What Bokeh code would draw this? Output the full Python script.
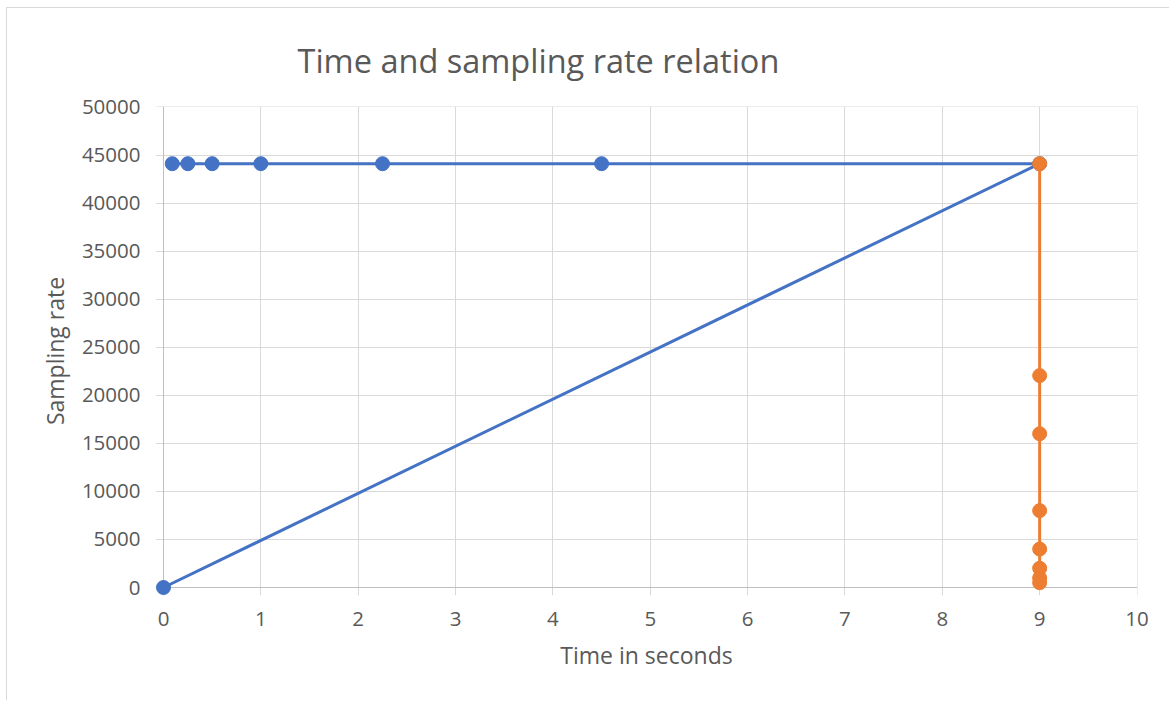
from bokeh.plotting import figure
from bokeh.models import Range1d, FixedTicker, Span
from bokeh.embed import file_html
from bokeh.resources import INLINE

# ---- data ----
blue_x = [0, 9, 4.5, 2.25, 1, 0.5, 0.25, 0.09]
blue_y = [0, 44100, 44100, 44100, 44100, 44100, 44100, 44100]
orange_x = [9, 9, 9, 9, 9, 9, 9, 9]
orange_y = [44100, 22050, 16000, 8000, 4000, 2000, 1000, 500]
x_ticks = [0, 1, 2, 3, 4, 5, 6, 7, 8, 9, 10]
y_ticks = [0, 5000, 10000, 15000, 20000, 25000, 30000, 35000, 40000, 45000, 50000]

FONT = "Open Sans"
TXT = "#595959"
GRID = "#d9d9d9"
AXIS = "#bfbfbf"
BLUE = "#4472C4"
ORANGE = "#ED7D31"

x_pad = 8 / 97.3
y_pad = 8 * 50000 / 481

p = figure(width=1163, height=693, output_backend="svg", toolbar_location=None,
           x_range=Range1d(-x_pad, 10.005), y_range=Range1d(-y_pad, 50050),
           min_border_left=148, min_border_right=33, min_border_top=98,
           min_border_bottom=106)
p.styles = {"margin-left": "6px", "margin-top": "7px",
            "border-left": "1.5px solid #d9d9d9", "border-top": "1.5px solid #d9d9d9"}
p.outline_line_color = None
p.background_fill_color = "white"
p.border_fill_color = "white"

p.title.text = "Time and sampling rate relation"
p.title.align = "left"
p.title.offset = 142
p.title.standoff = 48
p.title.text_font = FONT
p.title.text_font_size = "32.5px"
p.title.text_font_style = "normal"
p.title.text_color = TXT

for ax in (p.xaxis, p.yaxis):
    ax.axis_line_color = None
    ax.major_tick_line_color = None
    ax.minor_tick_line_color = None
    ax.major_label_text_font = FONT
    ax.major_label_text_color = TXT
    ax.major_label_text_font_size = "20.5px"
    ax.axis_label_text_font = FONT
    ax.axis_label_text_color = TXT
    ax.axis_label_text_font_size = "23px"
    ax.axis_label_text_font_style = "normal"

p.xaxis.ticker = FixedTicker(ticks=x_ticks)
p.yaxis.ticker = FixedTicker(ticks=y_ticks)
p.xaxis.major_label_standoff = 10
p.yaxis.major_label_standoff = 9
p.xaxis.axis_label = "Time in seconds"
p.yaxis.axis_label = "Sampling rate"
p.xaxis.axis_label_standoff = 10
p.yaxis.axis_label_standoff = 8

p.xgrid.ticker = FixedTicker(ticks=x_ticks)
p.ygrid.ticker = FixedTicker(ticks=y_ticks)
for g in (p.xgrid, p.ygrid):
    g.grid_line_color = GRID
    g.grid_line_width = 1

p.add_layout(Span(location=0, dimension="width", line_color=AXIS, line_width=1,
                  level="underlay"))
p.add_layout(Span(location=0, dimension="height", line_color=AXIS, line_width=1,
                  level="underlay"))

p.line(blue_x, blue_y, line_color=BLUE, line_width=3)
p.scatter(blue_x, blue_y, size=14, fill_color=BLUE, line_color=BLUE)
p.line(orange_x, orange_y, line_color=ORANGE, line_width=3)
p.scatter(orange_x, orange_y, size=14, fill_color=ORANGE, line_color=ORANGE)

open("out.html", "w").write(file_html(p, INLINE))
